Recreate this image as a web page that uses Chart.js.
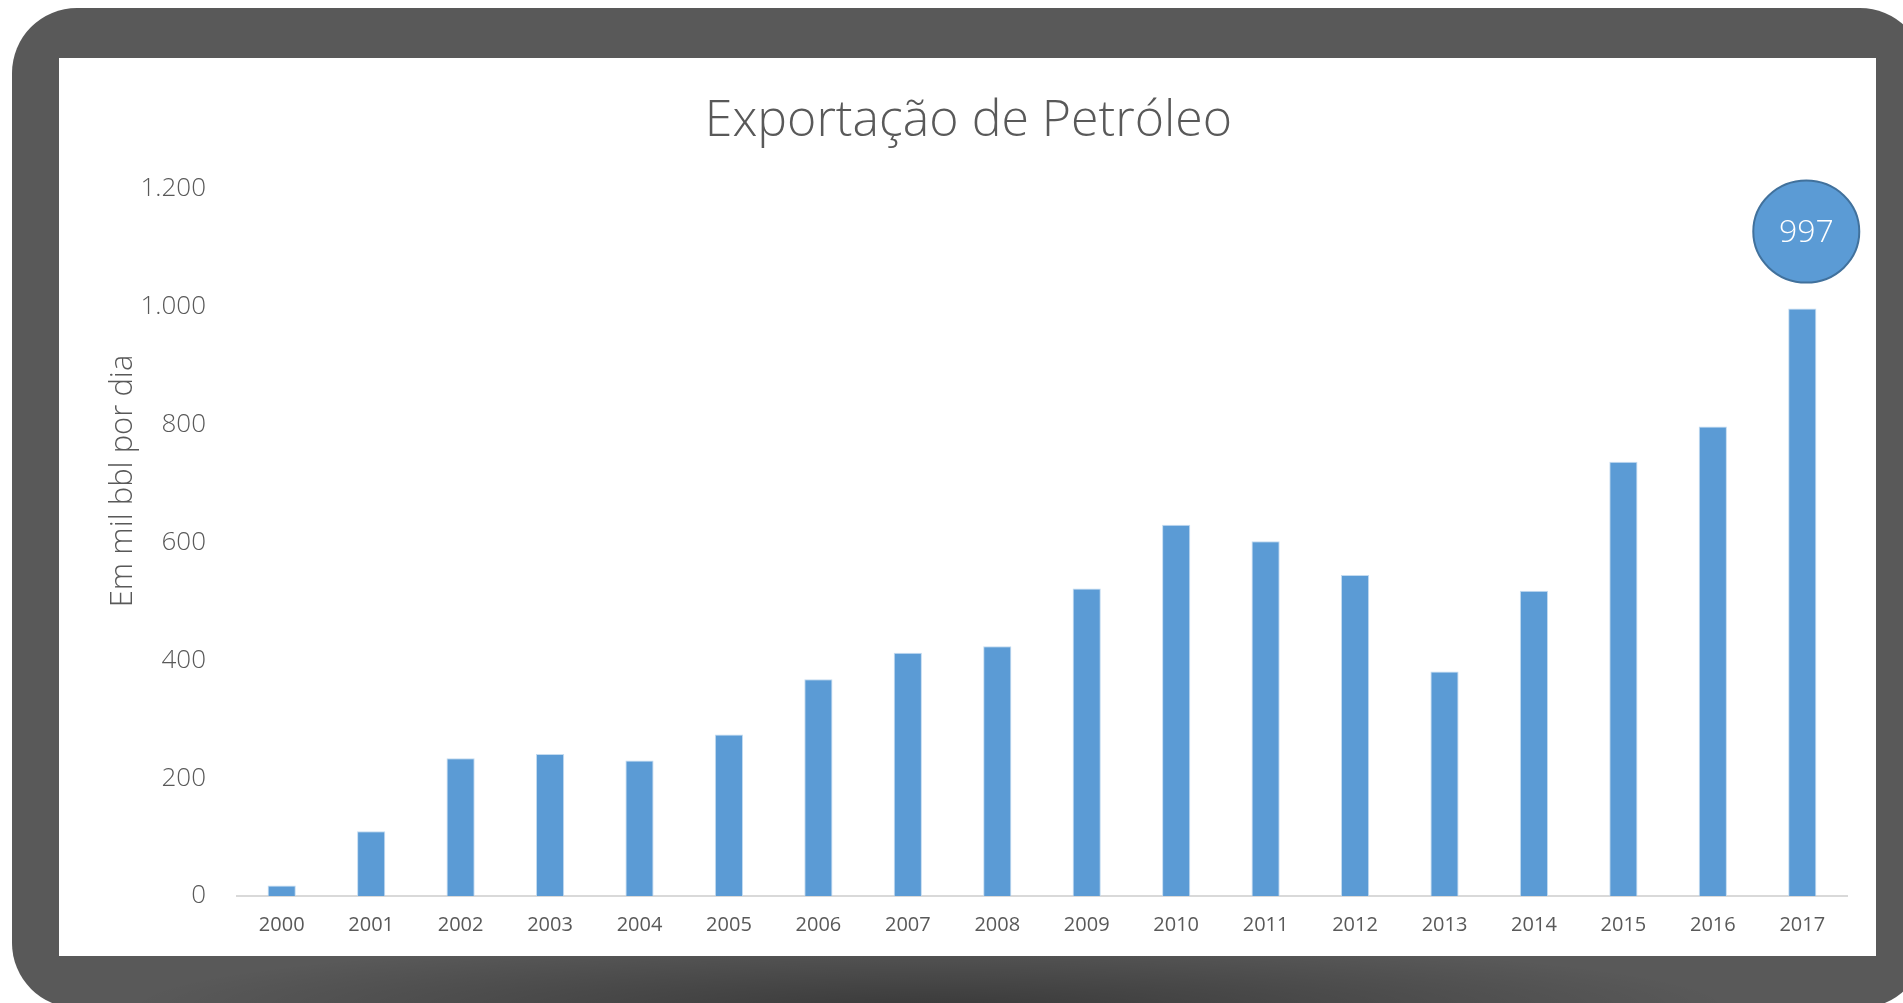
<!DOCTYPE html>
<html lang="pt-BR">
<head>
<meta charset="utf-8">
<title>Exportação de Petróleo</title>
<script src="https://cdn.jsdelivr.net/npm/chart.js@4.4.0/dist/chart.umd.min.js"></script>
<style>
html, body { margin: 0; padding: 0; background: #fff; width: 1903px; height: 1003px; overflow: hidden; }
.frame { position: absolute; left: 12px; top: 8px; width: 1913px; height: 1000px; border-radius: 65px; background: #595959; overflow: hidden; }
.frame::after { content: ''; position: absolute; left: 0; right: 0; bottom: 0; height: 70px;
  background: radial-gradient(ellipse 42% 100% at 48% 100%, rgba(0,0,0,0.35), rgba(0,0,0,0)); }
.panel { position: absolute; left: 59px; top: 58px; width: 1817px; height: 898px; background: #fff; z-index: 1; }
</style>
</head>
<body>
<div class="frame"></div>
<div class="panel"><canvas id="exportChart"></canvas></div>

<script>
// dados (mil bbl por dia)
const years = ['2000', '2001', '2002', '2003', '2004', '2005', '2006', '2007', '2008',
               '2009', '2010', '2011', '2012', '2013', '2014', '2015', '2016', '2017'];
const exportsKbd = [18, 110, 234, 241, 230, 274, 368, 413, 424, 522, 630, 602, 545, 381, 518, 737, 797, 997];
const yTicks = [0, 200, 400, 600, 800, 1000, 1200];
const calloutIndex = 17;

const textGray = '#595959';
const barBlue = '#5B9BD5';

function fmtThousands(v) {
  return String(v).replace(/\B(?=(\d{3})+(?!\d))/g, '.');
}

// bolha com o valor do ultimo ano
const calloutPlugin = {
  id: 'callout',
  afterDatasetsDraw(chart) {
    const bar = chart.getDatasetMeta(0).data[calloutIndex];
    if (!bar) return;
    const ctx = chart.ctx;
    const cx = bar.x + 4, cy = bar.y - 77;
    ctx.save();
    ctx.beginPath();
    ctx.ellipse(cx, cy, 53, 51, 0, 0, Math.PI * 2);
    ctx.fillStyle = barBlue;
    ctx.fill();
    ctx.lineWidth = 2;
    ctx.strokeStyle = '#41719C';
    ctx.stroke();
    ctx.fillStyle = '#fff';
    ctx.font = '300 32px "Open Sans"';
    ctx.textAlign = 'center';
    ctx.textBaseline = 'middle';
    ctx.fillText(String(exportsKbd[calloutIndex]), cx, cy + 1);
    ctx.restore();
  }
};

// titulo do eixo Y (no Excel fica acima do centro da area)
const yTitlePlugin = {
  id: 'yTitle',
  afterDraw(chart) {
    const ctx = chart.ctx;
    ctx.save();
    ctx.translate(64, 423);
    ctx.rotate(-Math.PI / 2);
    ctx.fillStyle = textGray;
    ctx.font = '300 31px "Open Sans"';
    ctx.textAlign = 'center';
    ctx.textBaseline = 'middle';
    ctx.fillText('Em mil bbl por dia', 0, 0);
    ctx.restore();
  }
};

Chart.defaults.font.family = '"Open Sans", sans-serif';
Chart.defaults.color = textGray;

new Chart(document.getElementById('exportChart'), {
  type: 'bar',
  data: {
    labels: years,
    datasets: [{
      label: 'Exportação',
      data: exportsKbd,
      backgroundColor: barBlue,
      borderColor: 'rgba(189,215,238,0.9)',
      borderWidth: 1,
      barPercentage: 0.315,
      categoryPercentage: 1
    }]
  },
  options: {
    responsive: true,
    maintainAspectRatio: false,
    animation: false,
    layout: { padding: { left: 31, right: 29, top: 0, bottom: 2 } },
    plugins: {
      legend: { display: false },
      tooltip: { enabled: false },
      title: {
        display: true,
        text: 'Exportação de Petróleo',
        color: textGray,
        font: { size: 50, weight: '300' },
        padding: { top: 34, bottom: 37 }
      }
    },
    scales: {
      x: {
        grid: { display: false, drawTicks: false },
        border: { display: true, color: '#D9D9D9', width: 2 },
        ticks: { color: textGray, font: { size: 20 }, padding: 17, maxRotation: 0 }
      },
      y: {
        min: 0,
        max: 1200,
        grid: { display: false, drawTicks: false },
        border: { display: false },
        afterBuildTicks: (scale) => { scale.ticks = yTicks.map(v => ({ value: v })); },
        afterFit: (scale) => { scale.width = 147; },
        ticks: {
          color: textGray,
          font: { size: 26, weight: '300' },
          padding: 31,
          callback: (v) => fmtThousands(v)
        }
      }
    }
  },
  plugins: [calloutPlugin, yTitlePlugin]
});
</script>
</body>
</html>
